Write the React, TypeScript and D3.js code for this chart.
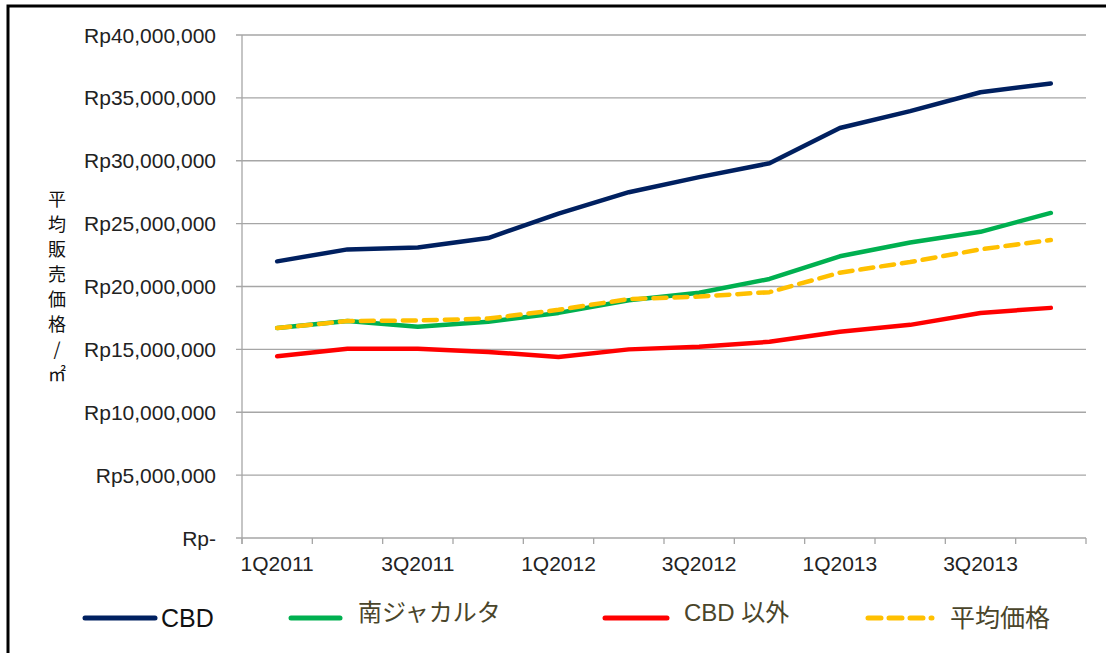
import React from "react";
import * as d3 from "d3";

const categories = ["1Q2011","2Q2011","3Q2011","4Q2011","1Q2012","2Q2012","3Q2012","4Q2012","1Q2013","2Q2013","3Q2013","4Q2013"];
const cbd = [22.0, 22.95, 23.1, 23.85, 25.8, 27.5, 28.7, 29.8, 32.6, 33.95, 35.45, 36.15];
const southJakarta = [16.7, 17.25, 16.8, 17.2, 17.9, 18.9, 19.5, 20.6, 22.4, 23.5, 24.35, 25.85];
const nonCbd = [14.45, 15.05, 15.05, 14.8, 14.4, 15.0, 15.2, 15.6, 16.4, 16.95, 17.9, 18.3];
const average = [16.7, 17.25, 17.3, 17.45, 18.15, 19.0, 19.2, 19.55, 21.1, 21.95, 22.95, 23.7];
const yTicks = [0, 5000000, 10000000, 15000000, 20000000, 25000000, 30000000, 35000000, 40000000];
const yTitle = ["平", "均", "販", "売", "価", "格", "/", "㎡"];

const series = [
  { name: "CBD", values: cbd, color: "#002060", dash: null, textColor: "#111" },
  { name: "南ジャカルタ", values: southJakarta, color: "#00b050", dash: null, textColor: "#4a452a" },
  { name: "CBD 以外", values: nonCbd, color: "#ff0000", dash: null, textColor: "#4a452a" },
  { name: "平均価格", values: average, color: "#ffc000", dash: "13,8", textColor: "#4a452a" },
];

export default function App() {
  const W = 1106, H = 653;
  const left = 242, right = 1086, top = 35, bottom = 538;
  const x = d3.scaleBand<string>().domain(categories).range([left, right]).padding(0);
  const y = d3.scaleLinear().domain([0, 40000000]).range([bottom, top]);
  const fmt = d3.format(",");
  const line = d3
    .line<number>()
    .x((_, i) => (x(categories[i]) as number) + x.bandwidth() / 2)
    .y((v) => y(v * 1000000))
    .curve(d3.curveLinear);

  const legendItems = [
    { x1: 85, x2: 155, tx: 161, ty: 618, size: 25 },
    { x1: 291, x2: 340, tx: 358, ty: 612, size: 24 },
    { x1: 605, x2: 667, tx: 684, ty: 612, size: 24 },
    { x1: 868, x2: 932, tx: 950, ty: 618, size: 25 },
  ];

  const font = "Arial, 'Liberation Sans', 'Noto Sans CJK JP', sans-serif";
  const gridColor = "#a6a6a6";

  return (
    <svg
      width={W}
      height={H}
      style={{ position: "absolute", left: 0, top: 0, background: "#fff" }}
      fontFamily={font}
    >
      <rect x={0} y={0} width={W} height={H} fill="#fff" />
      <rect x={8} y={6} width={1120} height={680} fill="none" stroke="#000" strokeWidth={3} />

      {yTicks.map((t) => (
        <g key={t}>
          <line x1={left - 6} x2={right} y1={y(t)} y2={y(t)} stroke={gridColor} strokeWidth={1.3} />
          <text x={216} y={y(t)} dy="0.36em" textAnchor="end" fontSize={21} fill="#222">
            {t === 0 ? "Rp-" : "Rp" + fmt(t)}
          </text>
        </g>
      ))}
      <line x1={left} x2={left} y1={top} y2={bottom + 6} stroke={gridColor} strokeWidth={1.3} />
      {categories.map((c) => (
        <line
          key={"t" + c}
          x1={x(c) as number}
          x2={x(c) as number}
          y1={bottom}
          y2={bottom + 6}
          stroke={gridColor}
          strokeWidth={1.3}
        />
      ))}
      <line x1={right} x2={right} y1={bottom} y2={bottom + 6} stroke={gridColor} strokeWidth={1.3} />
      {categories.map((c, i) =>
        i % 2 === 0 ? (
          <text
            key={"l" + c}
            x={(x(c) as number) + x.bandwidth() / 2}
            y={563}
            dy="0.36em"
            textAnchor="middle"
            fontSize={21}
            fill="#222"
          >
            {c}
          </text>
        ) : null
      )}

      {yTitle.map((ch, i) => (
        <text
          key={"yt" + i}
          x={57}
          y={200 + i * 25}
          dy="0.36em"
          textAnchor="middle"
          fontSize={18}
          fill="#111"
          fontFamily="'Noto Sans CJK JP', sans-serif"
        >
          {ch}
        </text>
      ))}

      {series.map((s) => (
        <path
          key={s.name}
          d={line(s.values) as string}
          fill="none"
          stroke={s.color}
          strokeWidth={4.5}
          strokeLinejoin="round"
          strokeLinecap="round"
          strokeDasharray={s.dash ?? undefined}
        />
      ))}

      {series.map((s, i) => {
        const L = legendItems[i];
        return (
          <g key={"lg" + s.name}>
            <line
              x1={L.x1}
              x2={L.x2}
              y1={618}
              y2={618}
              stroke={s.color}
              strokeWidth={5}
              strokeLinecap="round"
              strokeDasharray={s.dash ?? undefined}
            />
            <text x={L.tx} y={L.ty} dy="0.36em" fontSize={L.size} fill={s.textColor}>
              {s.name}
            </text>
          </g>
        );
      })}
    </svg>
  );
}
